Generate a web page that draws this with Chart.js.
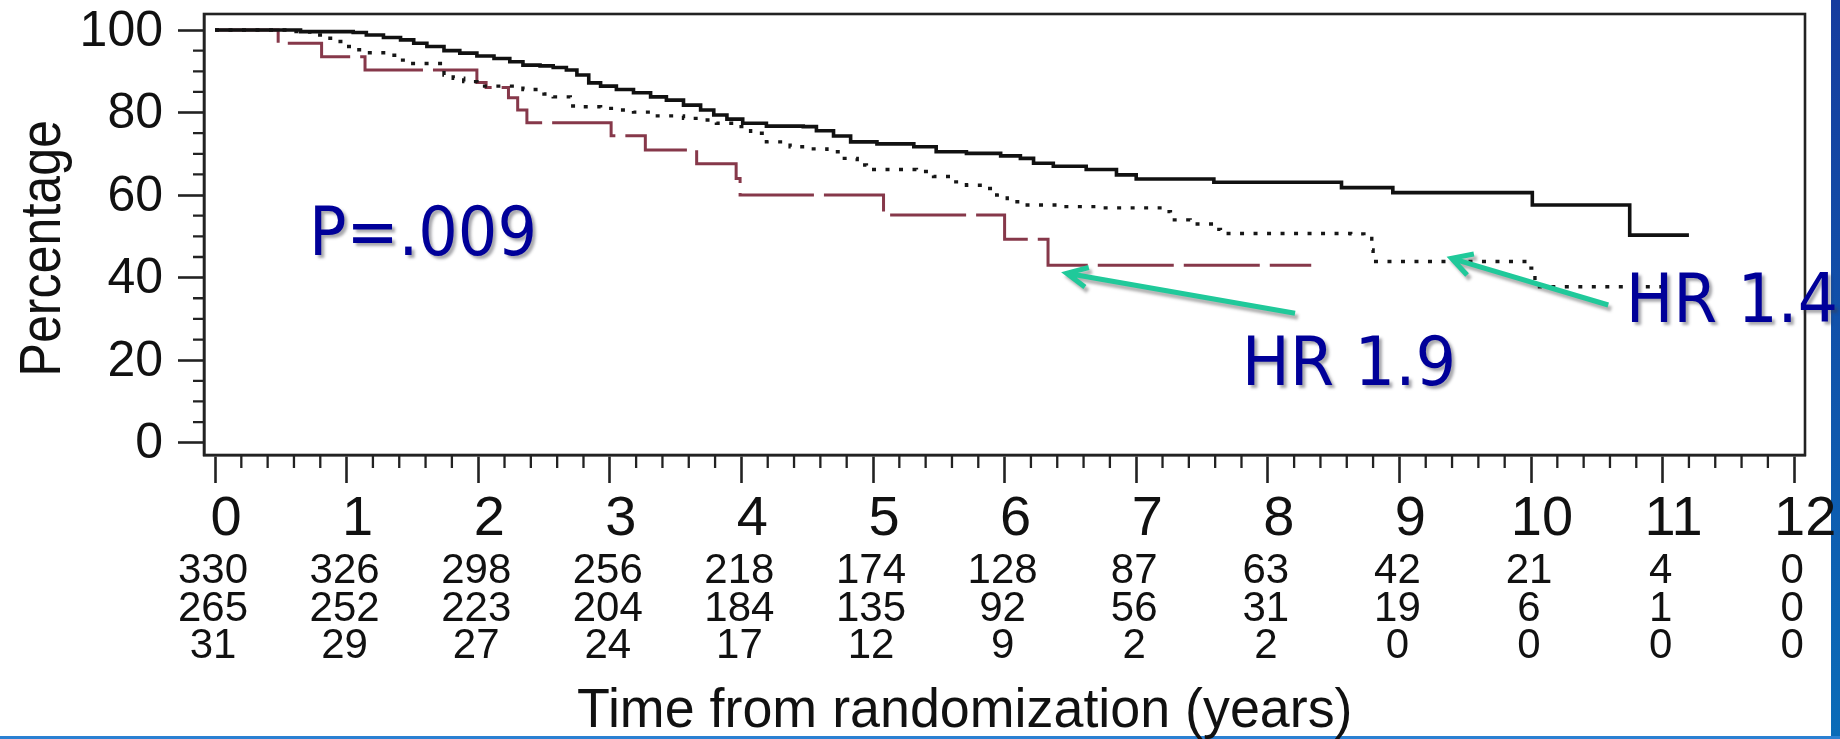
<!DOCTYPE html>
<html>
<head>
<meta charset="utf-8">
<script src="https://cdn.jsdelivr.net/npm/chart.js@4.4.1/dist/chart.umd.min.js"></script>
<style>
html,body{margin:0;padding:0;background:#fff;overflow:hidden}
canvas{display:block}
</style>
</head>
<body>
<canvas id="c" width="1840" height="739"></canvas>
<script>
// ---------- data ----------
const xTicks = [0,1,2,3,4,5,6,7,8,9,10,11,12];
const yTicks = [0,20,40,60,80,100];

// solid black curve (n=330)
const solidT = [0,0.65,1.05,1.15,1.28,1.41,1.51,1.61,1.74,1.86,1.99,2.12,2.24,2.34,2.47,2.57,2.67,2.75,2.84,2.93,3.05,3.18,3.31,3.43,3.56,3.69,3.79,3.89,4.01,4.19,4.47,4.57,4.70,4.83,5.03,5.31,5.48,5.71,5.97,6.12,6.22,6.37,6.62,6.85,7.00,7.59,8.56,8.95,10.01,10.75,11.20];
const solidS = [100,99.6,99.4,98.8,98.2,97.6,96.8,96.0,95.0,94.4,93.7,93.1,92.3,91.5,91.3,90.9,90.3,89.1,87.2,86.4,85.6,84.8,83.8,83.0,81.8,80.6,79.4,78.4,77.4,76.7,76.6,75.6,74.3,72.9,72.4,71.7,70.5,70.1,69.5,68.9,67.7,67.0,66.2,64.9,63.9,63.1,61.8,60.6,57.6,50.3,50.3];

// dotted black curve (n=265)
const dottedT = [0,0.57,0.72,0.85,0.93,1.00,1.08,1.15,1.33,1.41,1.48,1.74,1.81,1.89,1.99,2.34,2.50,2.57,2.70,2.80,2.93,3.08,3.18,3.31,3.56,3.69,3.81,3.96,4.07,4.19,4.37,4.50,4.65,4.75,4.88,4.95,5.33,5.46,5.59,5.71,5.84,5.94,6.02,6.12,6.40,6.73,7.21,7.26,7.41,7.59,7.64,8.63,8.73,8.79,8.80,10.00,10.03,11.00];
const dottedS = [100,99.6,98.8,98.0,97.2,96.0,95.2,94.5,93.9,92.7,91.9,89.1,88.3,87.5,86.4,85.6,84.5,83.8,81.6,81.4,81.0,80.6,80.1,79.2,78.6,78.2,77.4,76.6,75.0,72.9,71.7,71.2,70.5,68.9,67.3,66.2,65.7,64.5,63.2,62.4,61.6,60.0,58.4,57.6,57.2,56.9,56.0,54.0,53.0,51.7,50.7,50.6,49.5,46.7,43.9,42.3,37.8,37.8];

// dashed red curve (n=31)
const dashedT = [0,0.48,0.81,1.14,1.99,2.06,2.23,2.30,2.37,3.01,3.27,3.66,3.96,3.99,5.08,6.00,6.33,8.33];
const dashedS = [100,96.8,93.5,90.3,87.3,86.1,83.6,80.6,77.5,74.4,70.9,67.6,64.0,60.0,55.2,49.3,43.0,43.0];

// numbers at risk
const riskRow1 = [330,326,298,256,218,174,128,87,63,42,21,4,0];
const riskRow2 = [265,252,223,204,184,135,92,56,31,19,6,1,0];
const riskRow3 = [31,29,27,24,17,12,9,2,2,0,0,0,0];

const xTitle = 'Time from randomization (years)';
const yTitle = 'Percentage';
const notes = [
  {text: 'P=.009', x: 0.76,  y: 45.5,  w: 218},
  {text: 'HR 1.9', x: 7.85,  y: 14.0,  w: 204},
  {text: 'HR 1.4', x: 10.767, y: 29.25, w: 203}
];
const arrows = [
  {tip: [6.472, 41.05], tail: [8.207, 31.35], b1: [6.64, 42.45], b2: [6.61, 37.73]},
  {tip: [9.396, 44.68], tail: [10.587, 33.37], b1: [9.566, 45.72], b2: [9.514, 40.64]}
];

// ---------- helpers ----------
const SANS = '"Liberation Sans", Arial, Helvetica, sans-serif';
const TAHOMA = '"DejaVu Sans Condensed", "DejaVu Sans", Verdana, sans-serif';
const toPts = (T, S) => T.map((t, i) => ({x: t, y: S[i]}));
const noPad = s => { s.paddingTop = 0; s.paddingBottom = 0; s.paddingLeft = 0; s.paddingRight = 0; };

function drawFit(ctx, text, ox, oy, inkW, font, color, rot, shadow) {
  ctx.save();
  ctx.font = font;
  ctx.textAlign = 'left';
  ctx.textBaseline = 'alphabetic';
  const m = ctx.measureText(text);
  const w = m.actualBoundingBoxLeft + m.actualBoundingBoxRight;
  ctx.translate(ox, oy);
  if (rot) ctx.rotate(rot);
  ctx.scale(inkW / w, 1);
  if (shadow) {
    ctx.shadowColor = 'rgba(60,60,70,0.45)';
    ctx.shadowOffsetX = 3; ctx.shadowOffsetY = 3; ctx.shadowBlur = 3;
  }
  ctx.fillStyle = color;
  ctx.fillText(text, m.actualBoundingBoxLeft, 0);
  ctx.restore();
}

const decor = {
  id: 'decor',
  beforeDraw(chart) {
    const {ctx, width, height} = chart;
    ctx.save();
    ctx.fillStyle = '#ffffff';
    ctx.fillRect(0, 0, width, height);
    const g = ctx.createLinearGradient(0, 0, 0, height);
    g.addColorStop(0, '#163c9e');
    g.addColorStop(1, '#0a6cb8');
    ctx.fillStyle = g;
    ctx.fillRect(1831, 0, width - 1831, height);
    ctx.fillStyle = '#2a80d2';
    ctx.fillRect(0, 736, width, 3);
    ctx.restore();
  },
  afterDraw(chart) {
    const {ctx, chartArea: a, scales: {x, y}} = chart;
    ctx.save();
    // frame
    ctx.strokeStyle = '#222';
    ctx.lineWidth = 2.6;
    ctx.strokeRect(a.left, a.top, a.right - a.left, a.bottom - a.top);
    // minor ticks
    ctx.lineWidth = 2.3;
    ctx.beginPath();
    const xMinor = 0.2, yMinor = 5;
    for (let i = 1; i < 60; i++) {
      if (i % 5 === 0) continue;
      const px = x.getPixelForValue(i * xMinor);
      ctx.moveTo(px, a.bottom); ctx.lineTo(px, a.bottom + 13);
    }
    for (let i = 1; i < 20; i++) {
      if (i % 4 === 0) continue;
      const py = y.getPixelForValue(i * yMinor);
      ctx.moveTo(a.left, py); ctx.lineTo(a.left - 11, py);
    }
    ctx.stroke();
    // risk table
    ctx.font = '42px ' + SANS;
    ctx.fillStyle = '#111';
    ctx.textAlign = 'center';
    ctx.textBaseline = 'alphabetic';
    [riskRow1, riskRow2, riskRow3].forEach((row, r) => {
      row.forEach((n, i) => {
        ctx.fillText(String(n), x.getPixelForValue(xTicks[i]) - 2, 583 + r * 37.5);
      });
    });
    ctx.restore();
    // axis titles
    drawFit(ctx, xTitle, 578, 727, 772, '56px ' + SANS, '#111', 0, false);
    drawFit(ctx, yTitle, 60, 373, 251, '58px ' + SANS, '#111', -Math.PI / 2, false);
    // arrows
    ctx.save();
    ctx.strokeStyle = '#20c99a';
    ctx.lineWidth = 5;
    ctx.lineCap = 'butt';
    ctx.lineJoin = 'miter';
    ctx.shadowColor = 'rgba(60,60,60,0.4)';
    ctx.shadowOffsetX = 3; ctx.shadowOffsetY = 4; ctx.shadowBlur = 3;
    const P = p => [x.getPixelForValue(p[0]), y.getPixelForValue(p[1])];
    arrows.forEach(ar => {
      const tip = P(ar.tip), tail = P(ar.tail), b1 = P(ar.b1), b2 = P(ar.b2);
      ctx.beginPath();
      ctx.moveTo(tail[0], tail[1]); ctx.lineTo(tip[0], tip[1]);
      ctx.moveTo(b1[0], b1[1]); ctx.lineTo(tip[0], tip[1]); ctx.lineTo(b2[0], b2[1]);
      ctx.stroke();
    });
    ctx.restore();
    // annotations
    notes.forEach(n => {
      drawFit(ctx, n.text, x.getPixelForValue(n.x), y.getPixelForValue(n.y), n.w,
        '68px ' + TAHOMA, '#000099', 0, true);
    });
  }
};

new Chart(document.getElementById('c'), {
  type: 'line',
  data: {
    datasets: [
      {data: toPts(solidT, solidS), stepped: true, borderColor: '#111111', borderWidth: 3.6,
       pointRadius: 0, fill: false, tension: 0},
      {data: toPts(dottedT, dottedS), stepped: true, borderColor: '#161616', borderWidth: 3.4,
       borderDash: [4, 9.5], pointRadius: 0, fill: false, tension: 0},
      {data: toPts(dashedT, dashedS), stepped: true, borderColor: '#86384a', borderWidth: 3,
       borderDash: [76, 10], pointRadius: 0, fill: false, tension: 0}
    ]
  },
  options: {
    responsive: false,
    devicePixelRatio: 1,
    animation: false,
    events: [],
    layout: {padding: {top: 14, right: 35, bottom: 0, left: 0}},
    plugins: {legend: {display: false}, tooltip: {enabled: false}, title: {display: false}},
    scales: {
      x: {
        type: 'linear',
        position: 'bottom',
        min: -0.0836,
        max: 12.082,
        afterBuildTicks: s => { s.ticks = xTicks.map(v => ({value: v})); },
        afterFit: s => { s.height = 284; noPad(s); },
        grid: {display: true, drawOnChartArea: false, drawTicks: true, tickLength: 28,
               tickWidth: 2.6, tickColor: '#222'},
        border: {display: true, color: '#222', width: 2.6},
        ticks: {autoSkip: false, maxRotation: 0, minRotation: 0, padding: 9, labelOffset: 11,
                color: '#111', font: {family: SANS, size: 56, lineHeight: 1}},
        title: {display: false}
      },
      y: {
        type: 'linear',
        min: -2.98,
        max: 103.88,
        afterBuildTicks: s => { s.ticks = yTicks.map(v => ({value: v})); },
        afterFit: s => { s.width = 204; noPad(s); },
        grid: {display: true, drawOnChartArea: false, drawTicks: true, tickLength: 26,
               tickWidth: 2.6, tickColor: '#222'},
        border: {display: true, color: '#222', width: 2.6},
        ticks: {padding: 15, labelOffset: 2, color: '#111',
                font: {family: SANS, size: 50, lineHeight: 1}},
        title: {display: false}
      }
    }
  },
  plugins: [decor]
});
</script>
</body>
</html>
